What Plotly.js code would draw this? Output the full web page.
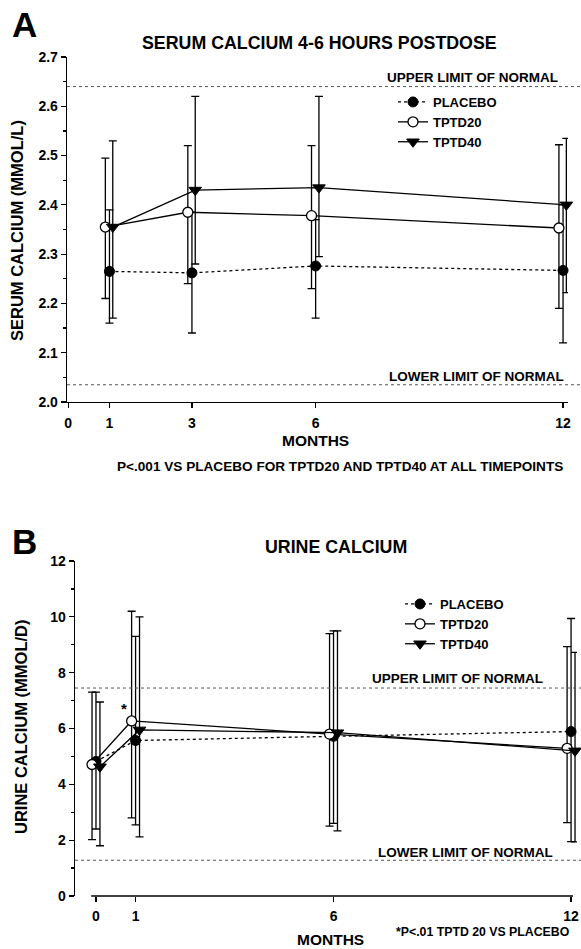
<!DOCTYPE html>
<html>
<head>
<meta charset="utf-8">
<script src="https://cdn.plot.ly/plotly-3.0.1.min.js"></script>
<style>
html,body{margin:0;padding:0;background:#fff;}
#chart{width:581px;height:949px;}
</style>
</head>
<body>
<div id="chart"></div>
<script>
// ---------- DATA ----------
// Panel A: serum calcium 4-6 h postdose (mmol/L)
var monthsA = [1, 3, 6, 12];
var placeboA    = [2.265, 2.262, 2.276, 2.267];
var placeboA_hi = [2.39, 2.385, 2.37, 2.40];
var placeboA_lo = [2.16, 2.14, 2.17, 2.12];
var tptd20A     = [2.355, 2.385, 2.378, 2.353];
var tptd20A_hi  = [2.495, 2.52, 2.52, 2.522];
var tptd20A_lo  = [2.21, 2.24, 2.23, 2.19];
var tptd40A     = [2.355, 2.43, 2.435, 2.40];
var tptd40A_hi  = [2.53, 2.62, 2.62, 2.535];
var tptd40A_lo  = [2.17, 2.28, 2.295, 2.222];
var limitsA = [2.64, 2.035];   // upper, lower limit of normal
var xticksA = [0, 1, 3, 6, 12];

// Panel B: urine calcium (mmol/d)
var monthsB = [0, 1, 6, 12];
var placeboB    = [4.82, 5.57, 5.72, 5.89];
var placeboB_hi = [7.3, 9.3, 9.5, 9.94];
var placeboB_lo = [2.4, 2.55, 2.6, 1.95];
var tptd20B     = [4.71, 6.27, 5.8, 5.29];
var tptd20B_hi  = [7.3, 10.2, 9.4, 8.93];
var tptd20B_lo  = [2.02, 2.8, 2.5, 2.63];
var tptd40B     = [4.63, 5.95, 5.85, 5.2];
var tptd40B_hi  = [6.95, 10.0, 9.5, 8.73];
var tptd40B_lo  = [1.8, 2.12, 2.33, 1.94];
var limitsB = [7.45, 1.28];
var xticksB = [0, 1, 6, 12];

var seriesNames = ['PLACEBO', 'TPTD20', 'TPTD40'];

// ---------- STYLE ----------
var W = 581, H = 949;
function px(x){ return x / W; }
function py(y){ return 1 - y / H; }
var FONT = 'Liberation Sans, Arial, sans-serif';
var dodge = {PLACEBO: 0, TPTD20: -0.1, TPTD40: 0.08};
var dodgeB = {PLACEBO: 0, TPTD20: -0.1, TPTD40: 0.1};
var styles = {
  PLACEBO: {line: {color: '#000', width: 1.3, dash: 'dot'}, marker: {symbol: 'circle', size: 10, color: '#000', line: {color: '#000', width: 1}}},
  TPTD20:  {line: {color: '#000', width: 1.3, dash: 'solid'}, marker: {symbol: 'circle', size: 10, color: '#fff', line: {color: '#000', width: 1.3}}},
  TPTD40:  {line: {color: '#000', width: 1.3, dash: 'solid'}, marker: {symbol: 'triangle-down', size: 11, color: '#000', line: {color: '#000', width: 1}}}
};

function mkTrace(name, months, off, mean, hi, lo, xa, ya, legend, show){
  return {
    type: 'scatter', mode: 'lines+markers', name: name,
    x: months.map(function(m){ return m + off; }),
    y: mean,
    error_y: {type: 'data', symmetric: false,
      array: hi.map(function(v, i){ return v - mean[i]; }),
      arrayminus: lo.map(function(v, i){ return mean[i] - v; }),
      color: '#000', thickness: 1.3, width: 4},
    line: styles[name].line, marker: styles[name].marker,
    xaxis: xa, yaxis: ya, legend: legend, showlegend: show, cliponaxis: false
  };
}

var data = [
  mkTrace('PLACEBO', monthsA, dodge.PLACEBO, placeboA, placeboA_hi, placeboA_lo, 'x', 'y', 'legend', true),
  mkTrace('TPTD20', monthsA, dodge.TPTD20, tptd20A, tptd20A_hi, tptd20A_lo, 'x', 'y', 'legend', true),
  mkTrace('TPTD40', monthsA, dodge.TPTD40, tptd40A, tptd40A_hi, tptd40A_lo, 'x', 'y', 'legend', true),
  mkTrace('PLACEBO', monthsB, dodgeB.PLACEBO, placeboB, placeboB_hi, placeboB_lo, 'x2', 'y2', 'legend2', true),
  mkTrace('TPTD20', monthsB, dodgeB.TPTD20, tptd20B, tptd20B_hi, tptd20B_lo, 'x2', 'y2', 'legend2', true),
  mkTrace('TPTD40', monthsB, dodgeB.TPTD40, tptd40B, tptd40B_hi, tptd40B_lo, 'x2', 'y2', 'legend2', true)
];

var tickFont = {family: FONT, size: 14, color: '#000', weight: 'bold'};
var axCommon = {showgrid: false, zeroline: false, linecolor: '#000', linewidth: 1.3,
  ticks: 'outside', ticklen: 5, tickwidth: 1.2, tickcolor: '#000', tickfont: tickFont, fixedrange: true};

function ann(text, x, y, size, opts){
  var a = {text: text, xref: 'paper', yref: 'paper', x: px(x), y: py(y), showarrow: false,
    xanchor: 'center', yanchor: 'middle',
    font: {family: FONT, size: size, color: '#000', weight: 'bold'}};
  for (var k in (opts || {})) a[k] = opts[k];
  return a;
}

var layout = {
  width: W, height: H, paper_bgcolor: '#fff', plot_bgcolor: 'rgba(0,0,0,0)',
  margin: {l: 0, r: 0, t: 0, b: 0}, showlegend: true,
  font: {family: FONT, color: '#000'},
  xaxis: Object.assign({}, axCommon, {domain: [px(67), px(568)], range: [-0.03, 12.12],
    tickmode: 'array', tickvals: xticksA, ticktext: xticksA.map(String), showline: true, anchor: 'y', ticklabelstandoff: 3}),
  yaxis: Object.assign({}, axCommon, {domain: [py(402), py(57)], range: [2.0, 2.7],
    dtick: 0.1, tick0: 2.0, tickformat: '.1f', showline: true, anchor: 'x',
    minor: {dtick: 0.05, tick0: 2.0, ticks: 'outside', ticklen: 3, tickcolor: '#000'}}),
  xaxis2: Object.assign({}, axCommon, {domain: [px(75), px(577)], range: [-0.53, 12.15],
    tickmode: 'array', tickvals: xticksB, ticktext: xticksB.map(String), showline: false, anchor: 'y2', ticklabelstandoff: 2}),
  yaxis2: Object.assign({}, axCommon, {domain: [py(896), py(561)], range: [0, 12],
    dtick: 2, tick0: 0, showline: true, anchor: 'x2',
    minor: {dtick: 1, tick0: 0, ticks: 'outside', ticklen: 3, tickcolor: '#000'}}),
  legend: {x: px(393), y: py(87), xanchor: 'left', yanchor: 'top', bgcolor: 'rgba(0,0,0,0)',
    font: {family: FONT, size: 13, color: '#000', weight: 'bold'}, tracegroupgap: 0, itemwidth: 30},
  legend2: {x: px(400), y: py(589), xanchor: 'left', yanchor: 'top', bgcolor: 'rgba(0,0,0,0)',
    font: {family: FONT, size: 13, color: '#000', weight: 'bold'}, tracegroupgap: 0, itemwidth: 30},
  shapes: [
    {type: 'line', xref: 'paper', yref: 'y', x0: px(67), x1: px(581), y0: limitsA[0], y1: limitsA[0], line: {color: '#555', width: 1, dash: 'dot'}},
    {type: 'line', xref: 'paper', yref: 'y', x0: px(67), x1: px(581), y0: limitsA[1], y1: limitsA[1], line: {color: '#555', width: 1, dash: 'dot'}},
    {type: 'line', xref: 'paper', yref: 'y2', x0: px(75), x1: px(581), y0: limitsB[0], y1: limitsB[0], line: {color: '#555', width: 1, dash: 'dot'}},
    {type: 'line', xref: 'paper', yref: 'y2', x0: px(75), x1: px(581), y0: limitsB[1], y1: limitsB[1], line: {color: '#555', width: 1, dash: 'dot'}},
    {type: 'line', xref: 'x2', yref: 'paper', x0: -0.12, x1: 12.05, y0: py(896), y1: py(896), line: {color: '#000', width: 1.3}}
  ],
  annotations: [
    ann('A', 10, 24, 35, {xanchor: 'left'}),
    ann('SERUM CALCIUM 4-6 HOURS POSTDOSE', 320, 43, 17.8),
    ann('SERUM CALCIUM (MMOL/L)', 17, 231, 16.5, {textangle: -90}),
    ann('MONTHS', 315, 440, 15.5),
    ann('P&lt;.001 VS PLACEBO FOR TPTD20 AND TPTD40 AT ALL TIMEPOINTS', 340, 466, 13.6),
    ann('UPPER LIMIT OF NORMAL', 560, 77, 13.5, {xanchor: 'right'}),
    ann('LOWER LIMIT OF NORMAL', 566, 376, 13.5, {xanchor: 'right'}),
    ann('B', 10, 541, 35, {xanchor: 'left'}),
    ann('URINE CALCIUM', 336, 547, 17.8),
    ann('URINE CALCIUM (MMOL/D)', 21, 727, 16.5, {textangle: -90}),
    ann('MONTHS', 330, 939, 15.5),
    ann('*P&lt;.01 TPTD 20 VS PLACEBO', 394, 932, 12.3, {xanchor: 'left'}),
    ann('UPPER LIMIT OF NORMAL', 545, 678, 13.5, {xanchor: 'right'}),
    ann('LOWER LIMIT OF NORMAL', 555, 852, 13.5, {xanchor: 'right'}),
    {text: '*', xref: 'x2', yref: 'y2', x: monthsB[1] + dodgeB.TPTD20, y: tptd20B[1], xshift: -8, yshift: 12,
      showarrow: false, font: {family: FONT, size: 15, color: '#000', weight: 'bold'}}
  ]
};

Plotly.newPlot('chart', data, layout, {staticPlot: true, displayModeBar: false});
</script>
</body>
</html>
